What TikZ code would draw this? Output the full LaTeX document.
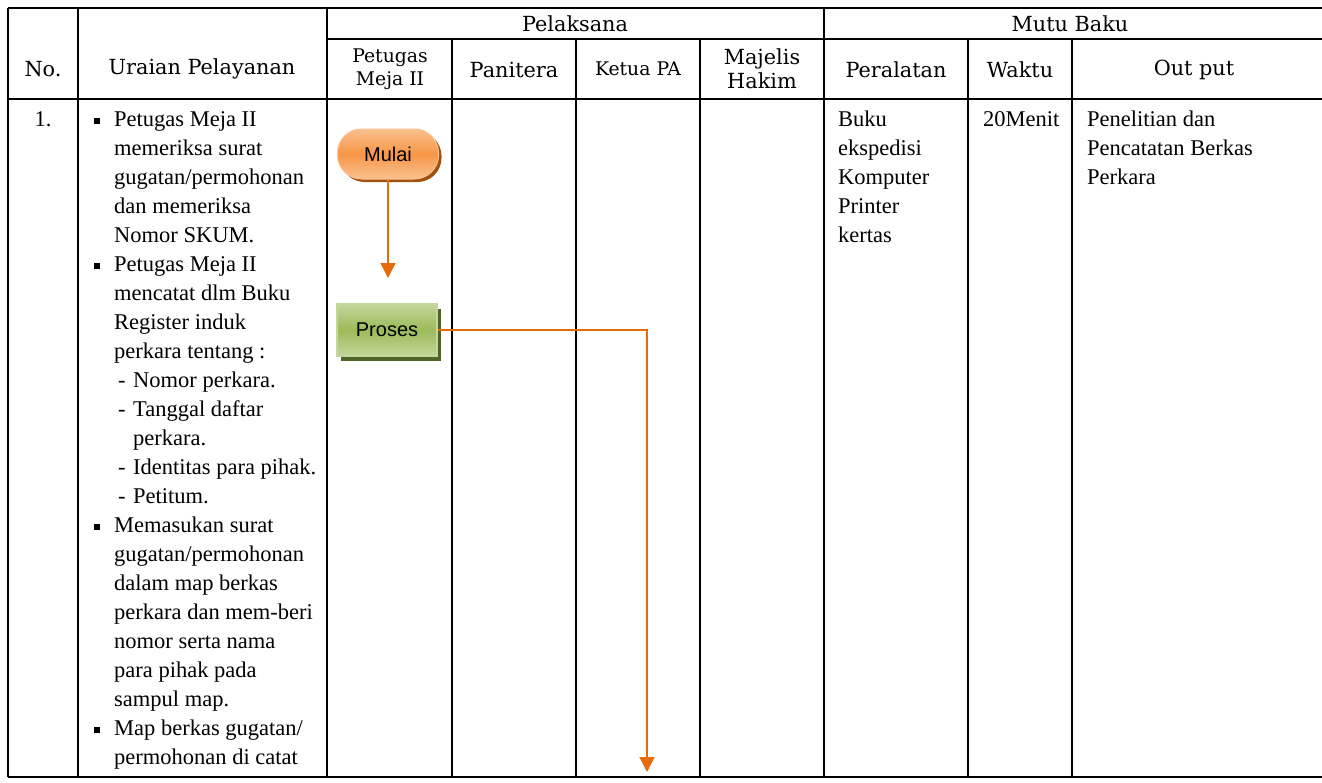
\documentclass[tikz,border=0pt]{standalone}
\usepackage{fontspec}
\setmainfont{Liberation Serif}
\newfontfamily\headfont{DejaVu Serif}
\newfontfamily\flowfont{Liberation Sans}
\usetikzlibrary{positioning}
\usetikzlibrary{arrows.meta}
\usetikzlibrary{shadows}
\definecolor{flowline}{HTML}{E46C0A}
\definecolor{startfill}{HTML}{F79646}
\definecolor{startlight}{HTML}{FAC090}
\definecolor{startshade}{HTML}{A0500F}
\definecolor{procfill}{HTML}{9BBB59}
\definecolor{proclight}{HTML}{C3D69B}
\definecolor{procshade}{HTML}{4F6228}
\newcommand{\itemsq}{\makebox[20pt][l]{\rule[2pt]{6pt}{6pt}}}
\newcommand{\itemdash}{\hspace*{24pt}\makebox[15pt][l]{-}}
\newcommand{\contind}{\hspace*{20pt}}
\tikzset{tabline/.style={line width=1.6pt}}
\tikzset{hd/.style={font=\headfont\fontsize{20.8}{24}\selectfont, align=center, inner sep=0pt}}
\tikzset{subhd/.style={font=\headfont\fontsize{18.8}{23}\selectfont, align=center, inner sep=0pt}}
\tikzset{cell/.style={font=\fontsize{22.5}{29}\selectfont, align=left, anchor=north west, inner sep=0pt}}
\tikzset{startbox/.style={draw=startlight, line width=1pt, rounded corners=24pt, minimum width=101pt, minimum height=50pt,
    top color=startlight, bottom color=startlight, middle color=startfill,
    drop shadow={shadow xshift=3pt, shadow yshift=-3pt, fill=startshade, opacity=1},
    font=\flowfont\fontsize{20}{24}\selectfont}}
\tikzset{procbox/.style={draw=proclight, line width=1.2pt, minimum width=100pt, minimum height=52pt,
    top color=proclight, bottom color=proclight, middle color=procfill,
    drop shadow={shadow xshift=4pt, shadow yshift=-5pt, fill=procshade, opacity=1},
    font=\flowfont\fontsize{20}{24}\selectfont}}
\tikzset{flow/.style={draw=flowline, line width=1.5pt, -{Triangle[width=15pt,length=15pt]}}}
\begin{document}
\begin{tikzpicture}[x=1pt, y=-1pt]
    \useasboundingbox[fill=white] (0,0) rectangle (1322,782);

    % table frame
    \draw[tabline] (8,8) -- (1322,8);
    \draw[tabline] (327,39) -- (1322,39);
    \draw[tabline] (8,99) -- (1322,99);
    \draw[tabline] (8,777) -- (1322,777);
    \foreach \x in {8,78,327,824}
        \draw[tabline] (\x,8) -- (\x,777);
    \foreach \x in {452,576,700,968,1072}
        \draw[tabline] (\x,39) -- (\x,777);

    % header
    \node[hd] (hno) at (43,69) {No.};
    \node[hd] (huraian) at (202,69) {Uraian Pelayanan};
    \node[hd] (hpelaksana) at (575,24) {Pelaksana};
    \node[hd] (hmutu) at (1070,24) {Mutu Baku};
    \node[subhd] (hpetugas) at (390,69) {Petugas\\Meja II};
    \node[hd] (hpanitera) at (514,70) {Panitera};
    \node[subhd] (hketua) at (638,69) {Ketua PA};
    \node[hd] (hmajelis) at (762,69) {Majelis\\Hakim};
    \node[hd] (hperalatan) at (896,70) {Peralatan};
    \node[hd] (hwaktu) at (1020,70) {Waktu};
    \node[hd] (houtput) at (1194,70) {Out put};

    % body
    \node[cell, anchor=north] (no1) at (43,111) {1.};
    \node[cell] (uraian) at (94,111) {%
        \itemsq Petugas Meja II\\
        \contind memeriksa surat\\
        \contind gugatan/permohonan\\
        \contind dan memeriksa\\
        \contind Nomor SKUM.\\
        \itemsq Petugas Meja II\\
        \contind mencatat dlm Buku\\
        \contind Register induk\\
        \contind perkara tentang :\\
        \itemdash Nomor perkara.\\
        \itemdash Tanggal daftar\\
        \hspace*{39pt}perkara.\\
        \itemdash Identitas para pihak.\\
        \itemdash Petitum.\\
        \itemsq Memasukan surat\\
        \contind gugatan/permohonan\\
        \contind dalam map berkas\\
        \contind perkara dan mem-beri\\
        \contind nomor serta nama\\
        \contind para pihak pada\\
        \contind sampul map.\\
        \itemsq Map berkas gugatan/\\
        \contind permohonan di catat};
    \node[cell] (peralatan) at (838,111) {Buku\\ekspedisi\\Komputer\\Printer\\kertas};
    \node[cell] (waktu) at (983,111) {20Menit};
    \node[cell] (output) at (1087,111) {Penelitian dan\\Pencatatan Berkas\\Perkara};

    % flow
    \node[startbox] (mulai) at (388,154) {Mulai};
    \node[procbox] (proses) at (387,330) {Proses};
    \coordinate (endA) at (388,278);
    \coordinate (endB) at (647,772);

    \draw[flow] (mulai) -- (endA);
    \draw[flow] (proses.east) -| (endB);
\end{tikzpicture}
\end{document}
